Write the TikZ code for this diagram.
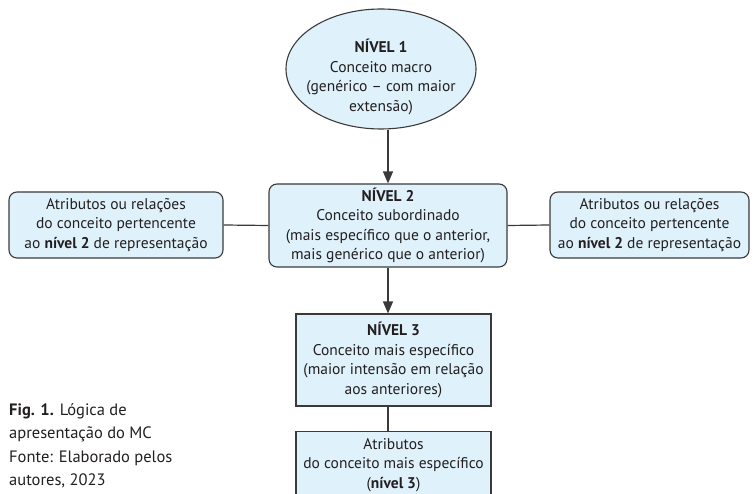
\documentclass[tikz,border=0pt]{standalone}
\usepackage{fontspec}
\setmainfont{PT Sans}
\usetikzlibrary{shapes.geometric,arrows.meta}
\definecolor{boxfill}{HTML}{DFF2FB}
\definecolor{boxline}{HTML}{3A3A3A}
\definecolor{txt}{HTML}{231F20}

\begin{document}
\begin{tikzpicture}[x=1pt,y=-1pt,
		concept/.style={draw=boxline, fill=boxfill, line width=1.1pt, text=txt, align=center, font=\fontsize{15.5}{19.5}\selectfont},
		roundbox/.style={concept, rounded corners=8pt},
		link/.style={draw=boxline, line width=1.2pt},
		arrowlink/.style={link, -{Triangle[length=12pt,width=10pt]}}]
			\path[use as bounding box, clip] (0,0) rectangle (756,494);
			% nivel 1
			\node[concept, ellipse, minimum width=190pt, minimum height=120pt] (lev1) at (381,69) {};
			\node[text=txt, align=center, font=\fontsize{15.5}{19.5}\selectfont] (lev1txt) at (381,77) {\textbf{NÍVEL 1}\\Conceito macro\\(genérico – com maior\\extensão)};
			% nivel 2
			\node[roundbox, minimum width=238pt, minimum height=83pt] (lev2) at (388,225.5) {\textbf{NÍVEL 2}\\Conceito subordinado\\(mais específico que o anterior,\\mais genérico que o anterior)};
			\node[roundbox, minimum width=214pt, minimum height=66pt] (attrL) at (116,225) {Atributos ou relações\\do conceito pertencente\\ao \textbf{nível 2} de representação};
			\node[roundbox, minimum width=199pt, minimum height=66pt] (attrR) at (649.5,225) {Atributos ou relações\\do conceito pertencente\\ao \textbf{nível 2} de representação};
			% nivel 3
			\node[concept, minimum width=195pt, minimum height=92pt] (lev3) at (393.5,360) {\textbf{NÍVEL 3}\\Conceito mais específico\\(maior intensão em relação\\aos anteriores)};
			\node[concept, anchor=north, minimum width=195pt, minimum height=67pt] (lev4) at (393.5,431) {Atributos\\do conceito mais específico\\(\textbf{nível 3})};
			% ligacoes
			\draw[arrowlink] (lev2.north |- lev1.south) -- (lev2.north);
			\draw[link] (attrL.east) -- (lev2.west);
			\draw[link] (lev2.east) -- (attrR.west);
			\draw[arrowlink] (lev2.south) -- (lev2.south |- lev3.north);
			\draw[link] (lev2.south |- lev3.south) -- (lev2.south |- lev4.north);
			% legenda
			\node[anchor=north west, inner sep=0pt, align=left, text=txt, font=\fontsize{16.5}{23.5}\selectfont] (caption) at (9,403) {\textbf{Fig. 1.} Lógica de\\apresentação do MC\\Fonte: Elaborado pelos\\autores, 2023};
		\end{tikzpicture}
\end{document}
